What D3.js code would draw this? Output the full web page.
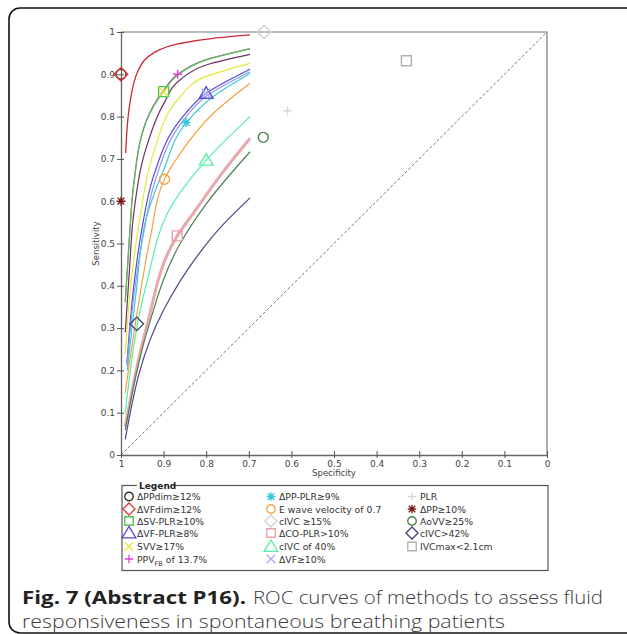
<!DOCTYPE html>
<html>
<head>
<meta charset="utf-8">
<script src="https://cdn.jsdelivr.net/npm/d3@7"></script>
<style>
  body { margin: 0; background: #fff; }
  svg { display: block; }
</style>
</head>
<body>
<div id="chart"></div>
<script>
// ROC curves, points read as [specificity, sensitivity]
var curveNames = ["ΔVFdim≥12%", "PPV_FB", "ΔSV-PLR≥10%", "plum", "SVV≥17%", "ΔVF-PLR≥8%", "ΔVF≥10%", "ΔPP-PLR≥9%", "E wave", "cIVC of 40%", "ΔCO-PLR>10%", "AoVV≥25%", "navy"];
var curveColors = ["#c8283a", "#e040d8", "#48c848", "#703060", "#e8e838", "#5a48d8", "#8898f0", "#40c8d8", "#f8a040", "#58f0a8", "#e8a8b0", "#4a8050", "#484888"];
var curveWidths = [1.3, 1.2, 1.2, 1.2, 1.2, 1.2, 1.2, 1.2, 1.2, 1.2, 3, 1.2, 1.2];

var redCurve = [[0.989, 0.714], [0.979, 0.832], [0.959, 0.910], [0.924, 0.950], [0.861, 0.973], [0.784, 0.985], [0.697, 0.993]];
var magentaCurve = [[0.990, 0.366], [0.980, 0.520], [0.971, 0.634], [0.940, 0.792], [0.900, 0.862], [0.867, 0.900], [0.800, 0.935], [0.697, 0.961]];
var greenCurve = [[0.990, 0.360], [0.980, 0.515], [0.971, 0.630], [0.940, 0.790], [0.900, 0.859], [0.867, 0.898], [0.800, 0.934], [0.697, 0.960]];
var plumCurve = [[0.990, 0.290], [0.980, 0.440], [0.971, 0.563], [0.940, 0.729], [0.900, 0.830], [0.861, 0.887], [0.800, 0.922], [0.697, 0.947]];
var yellowCurve = [[0.990, 0.240], [0.975, 0.420], [0.955, 0.563], [0.924, 0.713], [0.861, 0.847], [0.800, 0.895], [0.697, 0.926]];
var blueCurve = [[0.986, 0.217], [0.970, 0.400], [0.950, 0.540], [0.924, 0.658], [0.861, 0.792], [0.800, 0.855], [0.697, 0.912]];
var lavenderCurve = [[0.986, 0.210], [0.968, 0.390], [0.946, 0.530], [0.920, 0.648], [0.858, 0.785], [0.800, 0.848], [0.697, 0.906]];
var cyanCurve = [[0.985, 0.200], [0.965, 0.380], [0.940, 0.563], [0.900, 0.674], [0.847, 0.786], [0.780, 0.850], [0.697, 0.902]];
var orangeCurve = [[0.990, 0.147], [0.960, 0.350], [0.930, 0.520], [0.898, 0.652], [0.861, 0.713], [0.783, 0.808], [0.697, 0.879]];
var springCurve = [[0.990, 0.099], [0.940, 0.406], [0.878, 0.595], [0.800, 0.697], [0.697, 0.800]];
var pinkCurve = [[0.990, 0.067], [0.940, 0.303], [0.868, 0.518], [0.830, 0.572], [0.760, 0.670], [0.697, 0.749]];
var darkGreenCurve = [[0.990, 0.059], [0.940, 0.288], [0.861, 0.500], [0.799, 0.595], [0.697, 0.717]];
var navyCurve = [[0.990, 0.037], [0.900, 0.343], [0.822, 0.469], [0.760, 0.545], [0.697, 0.608]];
var curvePoints = [redCurve, magentaCurve, greenCurve, plumCurve, yellowCurve, blueCurve, lavenderCurve, cyanCurve, orangeCurve, springCurve, pinkCurve, darkGreenCurve, navyCurve];

// cut-off markers and legend entries (legend order, column by column)
var legendNames = ["ΔPPdim≥12%", "ΔVFdim≥12%", "ΔSV-PLR≥10%", "ΔVF-PLR≥8%", "SVV≥17%", "PPV_FB of 13.7%",
                   "ΔPP-PLR≥9%", "E wave velocity of 0.7", "cIVC ≥15%", "ΔCO-PLR>10%", "cIVC of 40%", "ΔVF≥10%",
                   "PLR", "ΔPP≥10%", "AoVV≥25%", "cIVC>42%", "IVCmax<2.1cm"];
var markerShapes = ["circle", "diamond", "square", "triangle", "x", "plus",
                    "asterisk", "circle", "diamond", "square", "triangle", "x",
                    "plus", "asterisk", "circle", "diamond", "square"];
var markerColors = ["#3a2a2a", "#e03838", "#48c848", "#5a48d8", "#e8e838", "#e040d8",
                    "#30c8d8", "#f8a040", "#d0d0d0", "#eca0a8", "#58f0a8", "#a8a8f0",
                    "#d8d8d8", "#7a1a1a", "#4a8050", "#404070", "#b0b0b0"];
var markerSpec = [1.0, 1.0, 0.900, 0.800, 0.900, 0.867, 0.847, 0.898, 0.664, 0.868, 0.800, 0.800, 0.609, 1.0, 0.666, 0.963, 0.330];
var markerSens = [0.900, 0.900, 0.859, 0.855, 0.859, 0.900, 0.786, 0.652, 1.000, 0.518, 0.697, 0.855, 0.814, 0.600, 0.751, 0.310, 0.932];

var tickValues = [0, 0.1, 0.2, 0.3, 0.4, 0.5, 0.6, 0.7, 0.8, 0.9, 1];

const W = 627, H = 634;
var svg = d3.select("#chart").append("svg").attr("width", W).attr("height", H);

// outer frame (runs off the right edge)
svg.append("rect").attr("x", 9).attr("y", 8).attr("width", 640).attr("height", 625)
    .attr("rx", 11).attr("fill", "none").attr("stroke", "#111").attr("stroke-width", 1.6);

var x = d3.scaleLinear().domain([1, 0]).range([121, 547]);
var y = d3.scaleLinear().domain([0, 1]).range([455, 32]);
var fmt = d => d === 0 ? "0" : d === 1 ? "1" : d3.format(".1f")(d);

var plot = svg.append("g");

// frame top and right
plot.append("path")
    .attr("d", `M${x(1)},${y(1)}H${x(0)}V${y(0)}`)
    .attr("fill", "none").attr("stroke", "#777").attr("stroke-width", 1.2);

// chance line
plot.append("line")
    .attr("x1", x(1)).attr("y1", y(0)).attr("x2", x(0)).attr("y2", y(1))
    .attr("stroke", "#777").attr("stroke-width", 1).attr("stroke-dasharray", "3,2");

// curves
var line = d3.line().x(d => x(d[0])).y(d => y(d[1])).curve(d3.curveMonotoneY);
plot.selectAll(".roc").data(curvePoints).enter()
    .append("path")
    .attr("class", "roc")
    .attr("d", d => line(d))
    .attr("fill", "none")
    .attr("stroke", (d, i) => curveColors[i])
    .attr("stroke-width", (d, i) => curveWidths[i]);

// axes
var yAxis = plot.append("g").attr("transform", `translate(${x(1)},0)`)
    .call(d3.axisLeft(y).tickValues(tickValues).tickFormat(fmt).tickSize(4).tickSizeOuter(0));
var xAxis = plot.append("g").attr("transform", `translate(0,${y(0)})`)
    .call(d3.axisBottom(x).tickValues(tickValues).tickFormat(fmt).tickSize(4).tickSizeOuter(0));
[yAxis, xAxis].forEach(g => {
    g.select(".domain").attr("stroke", "#666").attr("stroke-width", 1.3);
    g.selectAll(".tick line").attr("stroke", "#555");
    g.selectAll("text").attr("fill", "#444").style("font-family", "DejaVu Sans, sans-serif").style("font-size", "9px");
});
yAxis.selectAll(".tick line").attr("x1", 3);
yAxis.selectAll("text").attr("x", -6);
xAxis.selectAll(".tick line").attr("y1", -4).attr("y2", 3);
xAxis.selectAll("text").attr("y", 6);

plot.append("text").attr("transform", `translate(99,${(y(0) + y(1)) / 2}) rotate(-90)`)
    .attr("text-anchor", "middle").attr("fill", "#444")
    .style("font-family", "DejaVu Sans, sans-serif").style("font-size", "8.5px").text("Sensitivity");
plot.append("text").attr("x", (x(0) + x(1)) / 2).attr("y", 476)
    .attr("text-anchor", "middle").attr("fill", "#444")
    .style("font-family", "DejaVu Sans, sans-serif").style("font-size", "8.5px").text("Specificity");

// symbol helper
function symbolPath(shape, s) {
    var h = s / 2;
    if (shape == "circle") return d3.symbol().type(d3.symbolCircle).size(Math.PI * h * h)();
    if (shape == "square") return `M${-h},${-h}H${h}V${h}H${-h}Z`;
    if (shape == "diamond") return `M0,${-h * 1.35}L${h * 1.35},0L0,${h * 1.35}L${-h * 1.35},0Z`;
    if (shape == "triangle") return `M0,${-h * 1.2}L${h * 1.25},${h * 0.9}L${-h * 1.25},${h * 0.9}Z`;
    if (shape == "x") return `M${-h},${-h}L${h},${h}M${-h},${h}L${h},${-h}`;
    if (shape == "plus") return `M${-h},0H${h}M0,${-h}V${h}`;
    if (shape == "asterisk") return `M${-h},0H${h}M0,${-h}V${h}M${-h * 0.75},${-h * 0.75}L${h * 0.75},${h * 0.75}M${-h * 0.75},${h * 0.75}L${h * 0.75},${-h * 0.75}`;
}
var markerSize = {circle: 10, square: 10, diamond: 10, triangle: 11, x: 9, plus: 9, asterisk: 9};

// markers, drawn back to front
plot.selectAll(".mk").data(legendNames).enter()
    .append("path")
    .attr("class", "mk")
    .attr("transform", (d, i) => `translate(${x(markerSpec[i])},${y(markerSens[i])})`)
    .attr("d", (d, i) => symbolPath(markerShapes[i], markerSize[markerShapes[i]]))
    .attr("fill", "none")
    .attr("stroke", (d, i) => markerColors[i])
    .attr("stroke-width", 1.4);

// legend
var lg = svg.append("g");
lg.append("rect").attr("x", 122).attr("y", 485.5).attr("width", 426).attr("height", 85)
    .attr("fill", "none").attr("stroke", "#555").attr("stroke-width", 1.2);
lg.append("rect").attr("x", 137).attr("y", 480).attr("width", 36).attr("height", 10).attr("fill", "#fff");
lg.append("text").attr("x", 139).attr("y", 488.5).attr("fill", "#222")
    .style("font-family", "DejaVu Sans, sans-serif").style("font-size", "9px").style("font-weight", "bold").text("Legend");

var colX = [129, 271, 412];
var rowY = [496.5, 509, 521, 533, 546.5, 559];
var itemOffsets = [0, 6, 12];
var items = lg.selectAll(".item").data(legendNames).enter().append("g")
    .attr("transform", (d, i) => {
        var c = i < 6 ? 0 : i < 12 ? 1 : 2;
        var r = i - itemOffsets[c];
        return `translate(${colX[c]},${rowY[r]})`;
    });
items.append("path")
    .attr("d", (d, i) => symbolPath(markerShapes[i], markerShapes[i] == "diamond" ? 9 : markerShapes[i] == "triangle" ? 11 : 8.5))
    .attr("fill", "none")
    .attr("stroke", (d, i) => markerColors[i])
    .attr("stroke-width", 1.3);
var labels = items.append("text").attr("x", 8).attr("y", 3.5).attr("fill", "#333")
    .style("font-family", "DejaVu Sans, sans-serif").style("font-size", "9.3px");
labels.each(function (d) {
    var t = d3.select(this);
    if (d.indexOf("_FB") >= 0) {
        t.append("tspan").text("PPV");
        t.append("tspan").attr("dy", 3).style("font-size", "6.5px").text("FB");
        t.append("tspan").attr("dy", -3).text(" of 13.7%");
    } else {
        t.text(d);
    }
});

// caption
var cap = svg.append("g").style("font-family", "Open Sans, sans-serif").style("font-size", "17.5px");
cap.append("text").attr("x", 22).attr("y", 604).attr("fill", "#222")
    .attr("textLength", 224).attr("lengthAdjust", "spacingAndGlyphs")
    .style("font-weight", "bold").text("Fig. 7 (Abstract P16).");
cap.append("text").attr("x", 253).attr("y", 604).attr("fill", "#3a3a3a")
    .attr("textLength", 350).attr("lengthAdjust", "spacingAndGlyphs")
    .style("font-weight", "300").text("ROC curves of methods to assess fluid");
cap.append("text").attr("x", 22).attr("y", 628).attr("fill", "#3a3a3a")
    .attr("textLength", 483).attr("lengthAdjust", "spacingAndGlyphs")
    .style("font-weight", "300").text("responsiveness in spontaneous breathing patients");
</script>
</body>
</html>
